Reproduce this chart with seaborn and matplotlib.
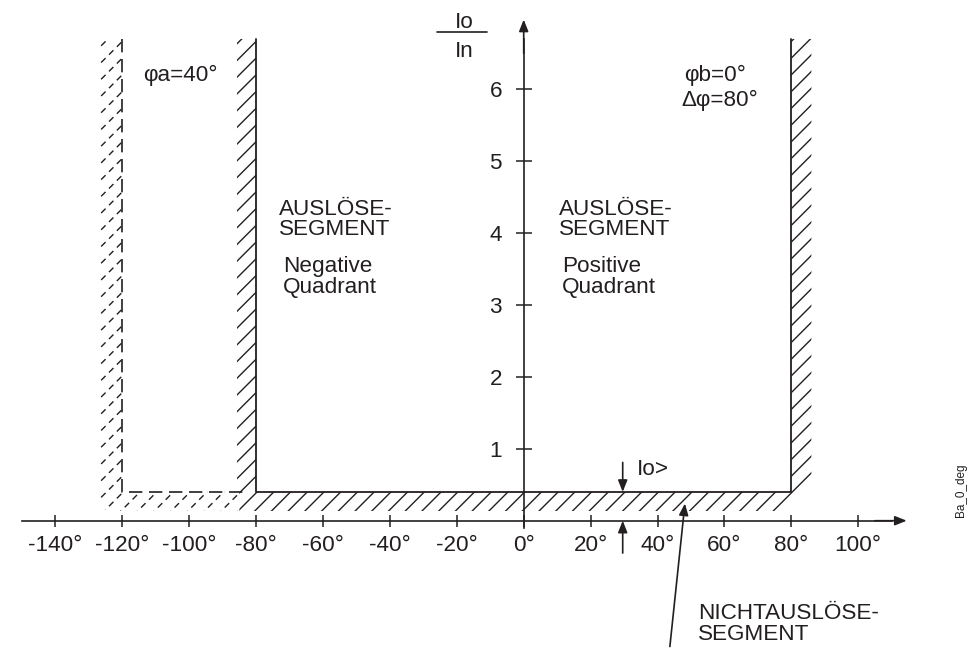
import numpy as np
import matplotlib
matplotlib.use("Agg")
import matplotlib.pyplot as plt
import seaborn as sns
from matplotlib.collections import LineCollection
from matplotlib.patches import Polygon

# --- data -------------------------------------------------------------
io_set = 0.4          # Io> threshold (Io/In)
top = 6.7             # upper end of the segment boundaries

pos_x = [-80, -80, 80, 80]            # positive segment boundary (deg)
pos_y = [top, io_set, io_set, top]
neg_x = [-120, -120, -84]             # negative segment boundary (deg)
neg_y = [top, io_set, io_set]

x_ticks = [-140, -120, -100, -80, -60, -40, -20, 0, 20, 40, 60, 80, 100]
x_labels = [f"{v}°" for v in x_ticks]
y_ticks = [1, 2, 3, 4, 5, 6]
y_labels = [str(v) for v in y_ticks]

io_arrow_x = 29.6

INK = "#231f20"
FS = 16.2

sns.set_theme(style="white")
plt.rcParams["font.family"] = ["Liberation Sans", "DejaVu Sans"]

fig = plt.figure(figsize=(9.7, 6.48), dpi=100)
ax = fig.add_axes([0, 0, 1, 1])

# px per unit, used to get 45 degree hatch lines on screen
SX = 3.345
SY = 71.9


def hatch(ax, poly, ls):
    patch = Polygon(poly, closed=True, fc="none", ec="none")
    ax.add_patch(patch)
    k = SX / SY
    c = np.arange(-338.3, 190, 5)
    segs = [[(ci - 2 / k, -2), (ci + 8 / k, 8)] for ci in c]
    lc = LineCollection(segs, colors=INK, linewidths=1.0, linestyles=ls)
    lc.set_clip_path(patch)
    ax.add_collection(lc, autolim=False)


# solid hatch along the positive segment
hatch(ax, [(-85.7, top), (-80, top), (-80, io_set), (80, io_set), (80, top),
           (86, top), (86, 0.5), (77, 0.135), (-85, 0.135), (-85, io_set),
           (-85.7, io_set)], "solid")
# dashed hatch along the negative segment
hatch(ax, [(-126.7, top), (-120, top), (-120, io_set), (-85, io_set),
           (-85, 0.135), (-124.5, 0.135), (-126.7, 0.22)], (0, (4.5, 3.5)))

sns.lineplot(x=pos_x, y=pos_y, sort=False, estimator=None, color=INK, lw=1.3, ax=ax)
sns.lineplot(x=neg_x, y=neg_y, sort=False, estimator=None, color=INK, lw=1.2,
             linestyle=(0, (8, 4)), ax=ax)

# axes through origin
for s in ["top", "right"]:
    ax.spines[s].set_visible(False)
ax.spines["left"].set_position(("data", 0))
ax.spines["bottom"].set_position(("data", 0))
ax.spines["bottom"].set_bounds(-150, 110)
ax.spines["left"].set_bounds(-0.1, 6.7)
for s in ["left", "bottom"]:
    ax.spines[s].set_color(INK)
    ax.spines[s].set_linewidth(1.2)

ax.set_xticks(x_ticks, x_labels)
ax.set_yticks(y_ticks, y_labels)
ax.tick_params(axis="x", bottom=True, direction="inout", length=8, width=1.1,
               color=INK, pad=6, labelsize=FS, labelcolor=INK)
ax.tick_params(axis="y", left=True, direction="inout", length=11, width=1.1,
               color=INK, pad=10, labelsize=FS, labelcolor=INK)

arr = dict(arrowstyle="-|>,head_length=0.5,head_width=0.2", color=INK, lw=1.2,
           mutation_scale=14, shrinkA=0, shrinkB=0)
ax.annotate("", xy=(114.5, 0), xytext=(105, 0), arrowprops=arr)
ax.annotate("", xy=(0, 6.97), xytext=(0, 6.5), arrowprops=arr)

# Io> marker
ax.annotate("", xy=(io_arrow_x, io_set), xytext=(io_arrow_x, 0.81), arrowprops=arr)
ax.annotate("", xy=(io_arrow_x, 0), xytext=(io_arrow_x, -0.45), arrowprops=arr)
ax.text(33.9, 0.64, "Io>", fontsize=FS, color=INK, va="baseline")

# leader to non-trip segment
ax.annotate("", xy=(48.2, 0.24), xytext=(43.7, -1.75), arrowprops=arr)
ax.text(52.0, -1.37, "NICHTAUSLÖSE-", fontsize=FS, color=INK, va="baseline")
ax.text(52.0, -1.66, "SEGMENT", fontsize=FS, color=INK, va="baseline")

# y axis label as fraction
ax.plot([-25.9, -11.0], [6.797, 6.797], color=INK, lw=1.2)
ax.text(-17.8, 6.853, "Io", fontsize=FS, color=INK, ha="center", va="baseline")
ax.text(-17.8, 6.45, "In", fontsize=FS, color=INK, ha="center", va="baseline")

# annotations
ax.text(-113.9, 6.12, "φa=40°", fontsize=FS, color=INK, va="baseline")
ax.text(47.9, 6.12, "φb=0°", fontsize=FS, color=INK, va="baseline")
ax.text(47.0, 5.77, "Δφ=80°", fontsize=FS, color=INK, va="baseline")

ax.text(-73.2, 4.25, "AUSLÖSE-", fontsize=FS, color=INK, va="baseline")
ax.text(-73.2, 3.97, "SEGMENT", fontsize=FS, color=INK, va="baseline")
ax.text(-71.9, 3.46, "Negative", fontsize=FS, color=INK, va="baseline")
ax.text(-71.9, 3.16, "Quadrant", fontsize=FS, color=INK, va="baseline")

ax.text(10.55, 4.25, "AUSLÖSE-", fontsize=FS, color=INK, va="baseline")
ax.text(10.55, 3.97, "SEGMENT", fontsize=FS, color=INK, va="baseline")
ax.text(11.4, 3.46, "Positive", fontsize=FS, color=INK, va="baseline")
ax.text(11.4, 3.16, "Quadrant", fontsize=FS, color=INK, va="baseline")

ax.text(130.8, 0.43, "Ba_0_deg", fontsize=8.5, color=INK, rotation=90,
        ha="center", va="center")

ax.set_xlim(-523.7 / SX, (970 - 523.7) / SX)
ax.set_ylim(-(648 - 520.7) / SY, 520.7 / SY)
ax.set_xlabel("")
ax.set_ylabel("")

fig.savefig("out.png", dpi=100)
